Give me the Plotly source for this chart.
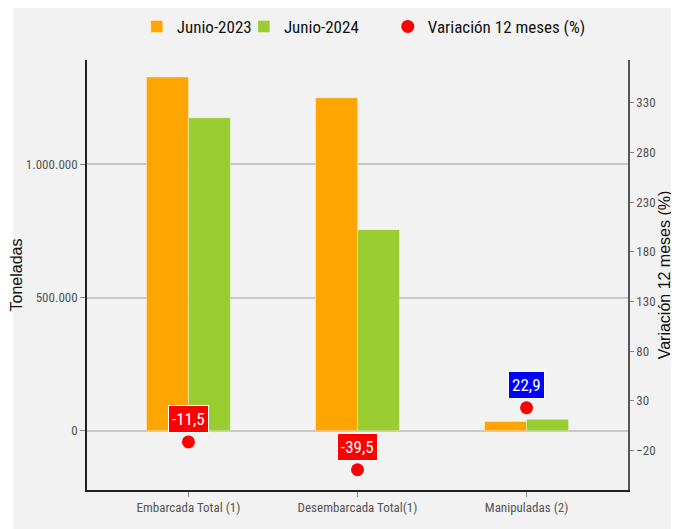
import plotly.graph_objects as go

categories = ["Embarcada Total (1)", "Desembarcada Total(1)", "Manipuladas (2)"]
junio_2023 = [1328000, 1250000, 35000]
junio_2024 = [1175000, 755000, 43000]
variacion = [-11.5, -39.5, 22.9]
variacion_labels = ["-11,5", "-39,5", "22,9"]

COND = "Liberation Sans Narrow, Roboto Condensed, Arial Narrow, DejaVu Sans Condensed, sans-serif"
SANS = "Liberation Sans, Arial, sans-serif"

fig = go.Figure()
fig.add_trace(go.Bar(
    x=categories, y=junio_2023, name="Junio-2023", legend="legend",
    marker=dict(color="#FFA500", line=dict(color="rgba(255,255,255,0.35)", width=1)),
))
fig.add_trace(go.Bar(
    x=categories, y=junio_2024, name="Junio-2024", legend="legend2",
    marker=dict(color="#9ACD32", line=dict(color="rgba(255,255,255,0.35)", width=1)),
))
fig.add_trace(go.Scatter(
    x=categories, y=variacion, name="Variación 12 meses (%)", yaxis="y2", legend="legend3",
    mode="markers", marker=dict(color="#FF0000", size=13, symbol="circle"),
))

for c, v, t in zip(categories, variacion, variacion_labels):
    fig.add_annotation(
        x=c, y=v, xref="x", yref="y2", text=t, showarrow=False, yshift=23,
        font=dict(family=COND, size=17, color="white"),
        bgcolor="#FF0000" if v < 0 else "#0000FF",
        bordercolor="white", borderwidth=1, borderpad=3,
    )

# light panel background with white surround
fig.add_shape(type="rect", xref="paper", yref="paper",
              x0=-0.137, x1=1.081, y0=-0.1, y1=1.13,
              fillcolor="#f2f2f2", line=dict(width=0), layer="below")

legend_font = dict(family=COND, size=17, color="#111")


def leg(xpos):
    return dict(orientation="h", x=xpos, xanchor="left", y=1.077, yanchor="middle",
                font=legend_font, bgcolor="rgba(0,0,0,0)", itemwidth=30)


fig.update_layout(
    width=671, height=521,
    margin=dict(l=79, r=51, t=52, b=39, autoexpand=False),
    paper_bgcolor="white", plot_bgcolor="#f2f2f2",
    separators=",.",
    barmode="group", bargap=0.504, bargroupgap=0,
    showlegend=True,
    legend=leg(0.092),
    legend2=leg(0.29),
    legend3=leg(0.556),
    xaxis=dict(
        range=[-0.6, 2.6], showline=True, linecolor="#222", linewidth=1.5,
        ticks="outside", ticklen=5, tickcolor="#888", automargin=False,
        tickfont=dict(family=COND, size=13, color="#555"), showgrid=False,
    ),
    yaxis=dict(
        range=[-222600, 1392000], tickvals=[0, 500000, 1000000],
        tickformat=",d", showline=True, linecolor="#222", linewidth=1.5,
        ticks="outside", ticklen=5, tickcolor="#888", automargin=False,
        tickfont=dict(family=COND, size=13, color="#555"),
        showgrid=True, gridcolor="#c8c8c8", gridwidth=1.5,
        zeroline=True, zerolinecolor="#c8c8c8", zerolinewidth=1.5,
        title=dict(text="Toneladas", font=dict(family=SANS, size=16, color="#111"), standoff=2),
    ),
    yaxis2=dict(
        overlaying="y", side="right", range=[-59.9, 373],
        tick0=-20, dtick=50, showgrid=False, zeroline=False,
        showline=True, linecolor="#555", linewidth=1.5, automargin=False,
        ticks="outside", ticklen=4, tickcolor="#888",
        tickfont=dict(family=COND, size=13, color="#555"),
        title=dict(text="Variación 12 meses (%)", font=dict(family=SANS, size=16, color="#111"), standoff=2),
    ),
)

fig.write_html("out.html")
